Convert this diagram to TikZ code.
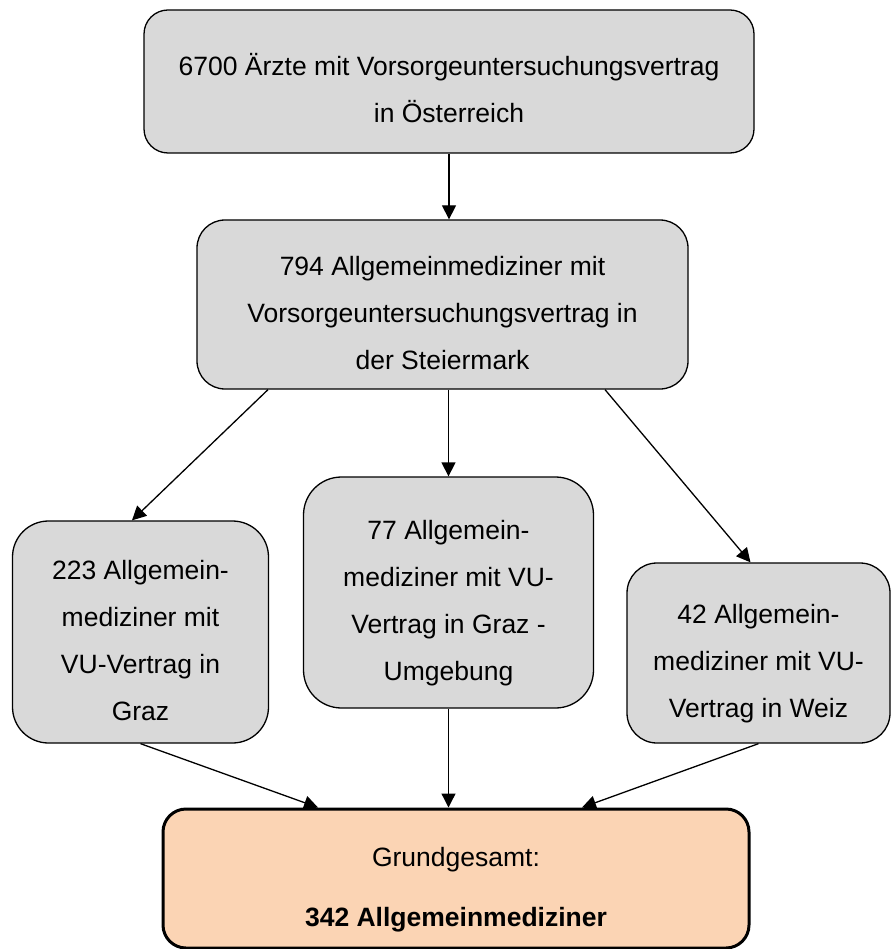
\documentclass[tikz,border=0pt]{standalone}
\usepackage{fontspec}
\setmainfont{Liberation Sans}
\usetikzlibrary{arrows.meta,positioning}
\definecolor{boxgray}{HTML}{D9D9D9}
\definecolor{peach}{HTML}{FBD4B4}
\newcommand{\topgap}{\rule{0pt}{47pt}}
\newcommand{\botgap}{\rule[-12pt]{0pt}{12pt}}
\tikzstyle{every box}=[draw,line width=1.3pt,fill=boxgray,align=center,inner sep=0pt,
  font=\fontsize{26.5}{47}\selectfont]
\tikzstyle{result}=[every box,fill=peach,line width=3pt]
\tikzstyle{every edge}=[draw,line width=1.3pt,-{Triangle[length=14pt,width=14pt]}]

\begin{document}
\begin{tikzpicture}[x=1pt,y=-1pt]
  \useasboundingbox (0,0) rectangle (892,949);
  \node[every box,minimum width=610pt,minimum height=143pt,rounded corners=24pt]
    (aerzte) at (449,81.5) {\topgap 6700 Ärzte mit Vorsorgeuntersuchungsvertrag\\in Österreich\botgap};
  \node[every box,minimum width=491pt,minimum height=169pt,rounded corners=28pt]
    (steier) at (442.5,304.5) {\topgap 794 Allgemeinmediziner mit\\Vorsorgeuntersuchungsvertrag in\\der Steiermark\botgap};
  \node[every box,minimum width=256pt,minimum height=222pt,rounded corners=36pt]
    (graz) at (140.5,632) {\topgap 223 Allgemein-\\mediziner mit\\VU-Vertrag in\\Graz\botgap};
  \node[every box,minimum width=290pt,minimum height=231pt,rounded corners=38pt]
    (umgeb) at (448.5,592.5) {\topgap 77 Allgemein-\\mediziner mit VU-\\Vertrag in Graz -\\Umgebung\botgap};
  \node[every box,minimum width=263pt,minimum height=180pt,rounded corners=30pt]
    (weiz) at (758.5,653) {\topgap 42 Allgemein-\\mediziner mit VU-\\Vertrag in Weiz\botgap};
  \node[result,minimum width=586pt,minimum height=139pt,rounded corners=23pt]
    (grund) at (456,878.5) {\topgap Grundgesamt:\\[13pt]\textbf{342 Allgemeinmediziner}\botgap};

  \path (aerzte.south) edge (aerzte.south |- steier.north)
    ([xshift=-174.5pt]steier.south) edge ([xshift=-8.5pt]graz.north)
    (umgeb.north |- steier.south) edge (umgeb.north)
    ([xshift=162.5pt]steier.south) edge ([xshift=-8pt]weiz.north)
    (graz.south) edge ([xshift=-138pt]grund.north)
    (umgeb.south) edge (umgeb.south |- grund.north)
    (weiz.south) edge ([xshift=126pt]grund.north);
\end{tikzpicture}
\end{document}
